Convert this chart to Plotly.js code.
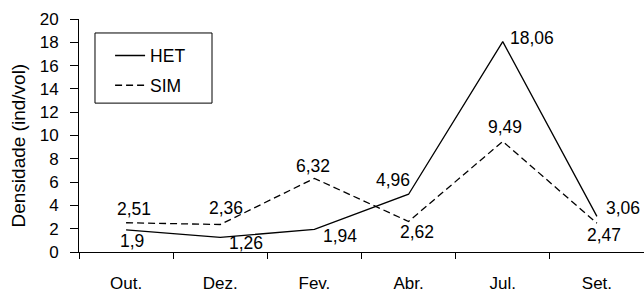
<!DOCTYPE html>
<html>
<head>
<meta charset="utf-8">
<script src="https://cdn.plot.ly/plotly-3.0.1.min.js"></script>
<style>html,body{margin:0;padding:0;background:#fff;}#chart{width:644px;height:292px;}</style>
</head>
<body>
<div id="chart"></div>
<script>
const months = ["Out.", "Dez.", "Fev.", "Abr.", "Jul.", "Set."];
const het = [1.9, 1.26, 1.94, 4.96, 18.06, 3.06];
const sim = [2.51, 2.36, 6.32, 2.62, 9.49, 2.47];
const yTicks = [0, 2, 4, 6, 8, 10, 12, 14, 16, 18, 20];
const yTitle = 'Densidade (ind/vol)';

// label offsets in pixels [xshift, yshift]
const hetOffsets = [[6,-11],[26,-6],[26,-7],[-16,14],[29,4],[26,8]];
const simOffsets = [[8,14],[6,17],[-1,12],[8,-11],[2,14],[7,-12]];

const fmt = v => String(v).replace('.', ',');
const fam = 'Arial, "Liberation Sans", sans-serif';
const tickFont = {family: fam, size: 17, color: '#000'};
const labFont = {family: fam, size: 17.5, color: '#000'};
const titleFont = {family: fam, size: 19, color: '#000'};

const traces = [
  {x: months, y: het, name: 'HET', legendgroup: 'a', type: 'scatter', mode: 'lines',
   line: {color: '#000', width: 1.3}},
  {x: months, y: sim, name: 'SIM', legendgroup: 'b', type: 'scatter', mode: 'lines',
   line: {color: '#000', width: 1.3, dash: '7px,4px'}}
];

const annotations = [];
months.forEach((m, i) => {
  annotations.push({x: m, y: het[i], xref: 'x', yref: 'y', text: fmt(het[i]), showarrow: false,
    xshift: hetOffsets[i][0], yshift: hetOffsets[i][1], font: labFont});
  annotations.push({x: m, y: sim[i], xref: 'x', yref: 'y', text: fmt(sim[i]), showarrow: false,
    xshift: simOffsets[i][0], yshift: simOffsets[i][1], font: labFont});
});
annotations.push({x: 0, y: 0.5, xref: 'paper', yref: 'paper', text: yTitle, showarrow: false,
  textangle: -90, xanchor: 'center', yanchor: 'middle', xshift: -61, yshift: -10, font: titleFont});

const layout = {
  width: 644, height: 292,
  margin: {l: 79, r: 0, t: 19, b: 40},
  paper_bgcolor: '#fff', plot_bgcolor: '#fff',
  font: tickFont,
  showlegend: true,
  legend: {x: 0.055, y: 0.92, xanchor: 'left', yanchor: 'top', bgcolor: 'rgba(0,0,0,0)',
    font: labFont, traceorder: 'grouped', tracegroupgap: 4},
  shapes: [{type: 'rect', xref: 'paper', yref: 'paper', x0: 0.0283, x1: 0.2354, y0: 0.639, y1: 0.940,
    line: {color: '#000', width: 1}}],
  xaxis: {type: 'category', range: [-0.5, 5.5], showline: true, linecolor: '#000', linewidth: 1,
    ticks: 'outside', tickson: 'boundaries', ticklen: 6, tickcolor: '#000', showgrid: false,
    zeroline: false, tickfont: tickFont, ticklabelstandoff: 16, fixedrange: true},
  yaxis: {range: [0, 20], tickvals: yTicks, ticktext: yTicks.map(String), showline: true, linecolor: '#000',
    linewidth: 1, ticks: 'outside', ticklen: 8, tickcolor: '#000', showgrid: false, zeroline: false,
    tickfont: tickFont, ticklabelstandoff: 8, automargin: false},
  annotations: annotations
};

Plotly.newPlot('chart', traces, layout, {staticPlot: true, displayModeBar: false});
</script>
</body>
</html>
